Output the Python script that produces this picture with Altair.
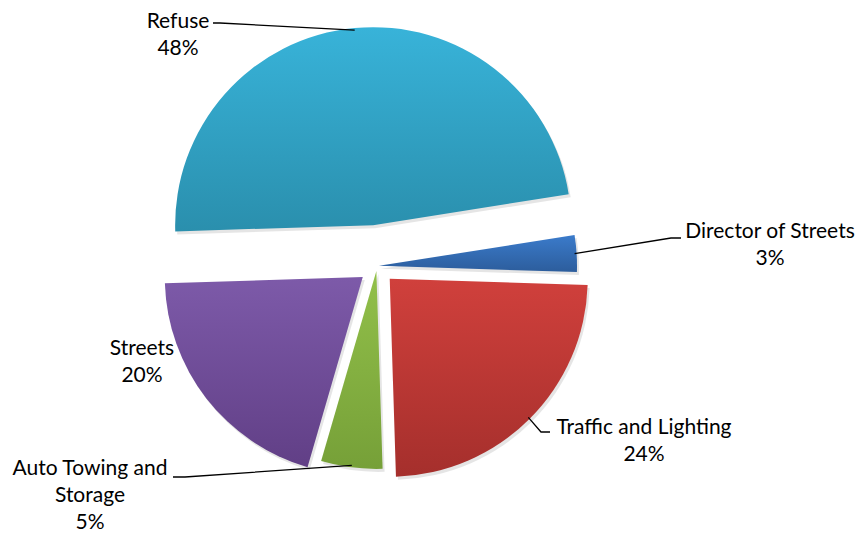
import math
import altair as alt
import pandas as pd

# ---------------- data ----------------
categories = ["Director of Streets", "Traffic and Lighting",
              "Auto Towing and Storage", "Streets", "Refuse"]
shares = [3, 24, 5, 20, 48]
label_lines = ["Director of Streets", "Traffic and Lighting",
               "Auto Towing and\nStorage", "Streets", "Refuse"]

# ---------------- style / layout ----------------
color_top = ["#3B7BCB", "#D0403C", "#92C04A", "#7D5AA9", "#38B3D9"]
color_bottom = ["#2C5D9C", "#A52F2C", "#76A038", "#613F86", "#2A8FAD"]
explode = [2, 18, 5, 18, 41]          # slice explosion (px)
START_DEG = 81                        # angle where first slice starts
W, H = 848, 527
CX, CY, R = 369, 258, 198
FONT = "Lato"
FONT_SIZE = 21
LINE_H = 27

# label anchors (first baseline) and leader line elbows/ends in chart px
label_pos = {
    "Director of Streets": (762, 230),
    "Traffic and Lighting": (636, 426),
    "Auto Towing and Storage": (82, 467),
    "Streets": (134, 347),
    "Refuse": (170, 20),
}
leader_pts = {
    "Director of Streets": [(663, 230), (673, 230)],
    "Traffic and Lighting": [(533, 424), (542, 424)],
    "Auto Towing and Storage": [(177, 469), (165, 469)],
    "Refuse": [(212, 15), (205, 15)],
}

# ---------------- derived table ----------------
df = pd.DataFrame({"category": categories, "share": shares,
                   "label": label_lines})
df["end"] = df["share"].cumsum()
df["start"] = df["end"] - df["share"]
total = df["share"].sum()
a0 = math.radians(START_DEG)
df["mid"] = a0 + (df["start"] + df["end"]) / 2 / total * 2 * math.pi
df["explode"] = explode
df["cx"] = CX + df["explode"] * df["mid"].apply(math.sin)
df["cy"] = CY - df["explode"] * df["mid"].apply(math.cos)
df["text"] = df["label"] + "\n" + df["share"].astype(str) + "%"
df["tx"] = [label_pos[c][0] for c in categories]
df["ty"] = [label_pos[c][1] for c in categories]

rows = []
for _, r in df.iterrows():
    if r["category"] not in leader_pts:
        continue
    sx = r["cx"] + (R - 2) * math.sin(r["mid"])
    sy = r["cy"] - (R - 2) * math.cos(r["mid"])
    pts = [(sx, sy)] + leader_pts[r["category"]]
    for i, (x, y) in enumerate(pts):
        rows.append({"category": r["category"], "seq": i, "x": x, "y": y})
lines_df = pd.DataFrame(rows)

theta_scale = alt.Scale(domain=[0, total],
                        range=[a0, a0 + 2 * math.pi])

layers = []
for i, cat in enumerate(categories):
    grad = alt.Gradient(gradient="linear",
                        stops=[alt.GradientStop(color=color_top[i], offset=0),
                               alt.GradientStop(color=color_bottom[i], offset=1)],
                        x1=0, y1=0, x2=0, y2=1)
    # soft shadow
    layers.append(
        alt.Chart(df).transform_filter(alt.datum.category == cat)
        .transform_calculate(sx="datum.cx + 2", sy="datum.cy + 3")
        .mark_arc(radius=R, color="#000000", opacity=0.10)
        .encode(theta=alt.Theta("start:Q", scale=theta_scale),
                theta2="end:Q",
                x=alt.X("sx:Q", scale=None, axis=None),
                y=alt.Y("sy:Q", scale=None, axis=None))
    )
    layers.append(
        alt.Chart(df).transform_filter(alt.datum.category == cat)
        .mark_arc(radius=R, color=grad)
        .encode(theta=alt.Theta("start:Q", scale=theta_scale),
                theta2="end:Q",
                x=alt.X("cx:Q", scale=None, axis=None),
                y=alt.Y("cy:Q", scale=None, axis=None))
    )

lines = alt.Chart(lines_df).mark_line(color="#000000", strokeWidth=1.3).encode(
    x=alt.X("x:Q", scale=None, axis=None),
    y=alt.Y("y:Q", scale=None, axis=None),
    detail="category:N",
    order="seq:Q",
)

texts = alt.Chart(df).mark_text(
    font=FONT, fontSize=FONT_SIZE, lineBreak="\n", lineHeight=LINE_H,
    align="center", baseline="alphabetic", color="#000000"
).encode(
    x=alt.X("tx:Q", scale=None, axis=None),
    y=alt.Y("ty:Q", scale=None, axis=None),
    text="text:N",
)

chart = alt.layer(*layers, lines, texts).properties(
    width=W, height=H, autosize="none", padding=0
).configure_view(stroke=None)

chart.save("out.html", embed_options={"renderer": "svg", "actions": False})
